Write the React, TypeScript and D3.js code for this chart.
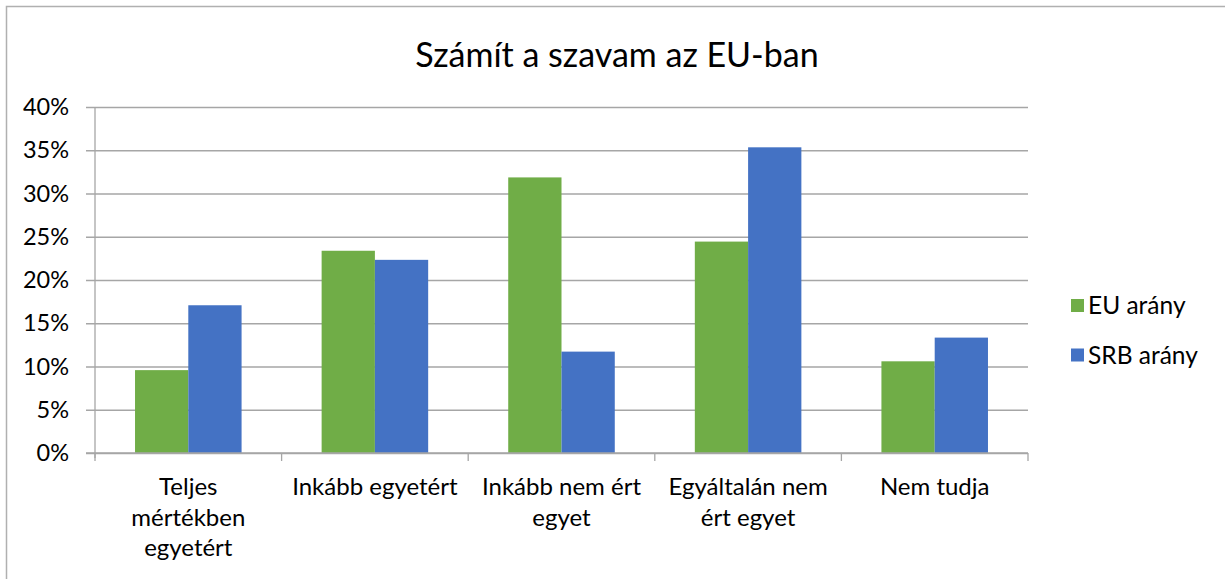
import React, { useEffect, useRef } from "react";
import * as d3 from "d3";

// chart data
const categories = [
  ["Teljes", "mértékben", "egyetért"],
  ["Inkább egyetért"],
  ["Inkább nem ért", "egyet"],
  ["Egyáltalán nem", "ért egyet"],
  ["Nem tudja"],
];
const seriesNames = ["EU arány", "SRB arány"];
const euValues = [0.0958, 0.2338, 0.3186, 0.2444, 0.106];
const srbValues = [0.1708, 0.2233, 0.1172, 0.3534, 0.1334];
const yTicks = [0, 0.05, 0.1, 0.15, 0.2, 0.25, 0.3, 0.35, 0.4];
const colors = ["#70AD47", "#4472C4"];

const W = 1225;
const H = 579;
const FONT = "Lato, 'Open Sans', sans-serif";

export default function App() {
  const ref = useRef<SVGSVGElement>(null);

  useEffect(() => {
    const svg = d3.select(ref.current);
    svg.selectAll("*").remove();

    var margin = { top: 107, left: 95, right: W - 1028, bottom: H - 453 };
    var width = W - margin.left - margin.right;
    var height = H - margin.top - margin.bottom;

    // chart frame
    svg.append("rect")
      .attr("x", 6.5).attr("y", 6.5)
      .attr("width", W + 20).attr("height", H + 20)
      .attr("fill", "white")
      .attr("stroke", "#b0b0b0")
      .attr("stroke-width", 1.5);

    svg.append("text")
      .attr("x", 617).attr("y", 67)
      .attr("text-anchor", "middle")
      .attr("font-family", FONT)
      .attr("font-size", 34)
      .attr("fill", "#000")
      .text("Számít a szavam az EU-ban");

    const g = svg.append("g")
      .attr("transform", "translate(" + margin.left + "," + margin.top + ")");

    const x0 = d3.scaleBand<number>()
      .domain(categories.map((_, i) => i))
      .range([0, width]);
    const bw = x0.bandwidth();
    const x1 = d3.scaleBand<number>()
      .domain([0, 1])
      .range([bw * 0.2145, bw * 0.7855]);

    const y = d3.scaleLinear().domain([0, 0.4]).range([height, 0]);

    // gridlines + y labels
    const yAxis = d3.axisLeft(y)
      .tickValues(yTicks)
      .tickSize(-width)
      .tickPadding(26)
      .tickFormat(d3.format(".0%") as any);
    const ya = g.append("g").call(yAxis);
    ya.select(".domain").remove();
    ya.selectAll(".tick line")
      .attr("x1", -9)
      .attr("stroke", "#a6a6a6")
      .attr("stroke-width", 1.3);
    ya.selectAll(".tick text")
      .attr("font-family", FONT)
      .attr("font-size", 23.5)
      .attr("fill", "#000");

    // bars
    const series = [euValues, srbValues];
    series.forEach((vals, s) => {
      g.append("g")
        .selectAll("rect")
        .data(vals)
        .enter()
        .append("rect")
        .attr("x", (d, i) => (x0(i) as number) + (x1(s) as number))
        .attr("y", (d) => y(d))
        .attr("width", x1.bandwidth())
        .attr("height", (d) => height - y(d))
        .attr("fill", colors[s]);
    });

    // vertical axis line
    g.append("line")
      .attr("x1", 0).attr("x2", 0)
      .attr("y1", 0).attr("y2", height + 5)
      .attr("stroke", "#a6a6a6").attr("stroke-width", 1.3);
    // x axis line
    g.append("line")
      .attr("x1", -9).attr("x2", width)
      .attr("y1", height).attr("y2", height)
      .attr("stroke", "#a6a6a6").attr("stroke-width", 1.3);
    // category boundary ticks
    const bounds = categories.map((_, i) => x0(i) as number).concat([width]);
    g.append("g")
      .selectAll("line")
      .data(bounds)
      .enter()
      .append("line")
      .attr("x1", (d) => d).attr("x2", (d) => d)
      .attr("y1", height).attr("y2", height + 8)
      .attr("stroke", "#a6a6a6").attr("stroke-width", 1.3);

    // category labels
    categories.forEach((lines, i) => {
      const t = g.append("text")
        .attr("text-anchor", "middle")
        .attr("font-family", FONT)
        .attr("font-size", 24)
        .attr("fill", "#000");
      lines.forEach((ln, j) => {
        t.append("tspan")
          .attr("x", (x0(i) as number) + bw / 2)
          .attr("y", height + 42 + j * 30.5)
          .text(ln);
      });
    });

    // legend
    seriesNames.forEach((name, s) => {
      svg.append("rect")
        .attr("x", 1071).attr("y", 299 + s * 49.5)
        .attr("width", 13).attr("height", 13)
        .attr("fill", colors[s]);
      svg.append("text")
        .attr("x", 1088).attr("y", 314 + s * 49.5)
        .attr("font-family", FONT)
        .attr("font-size", 24.5)
        .attr("fill", "#000")
        .text(name);
    });
  }, []);

  return (
    <svg
      ref={ref}
      width={W}
      height={H}
      style={{ position: "absolute", left: 0, top: 0 }}
    />
  );
}
